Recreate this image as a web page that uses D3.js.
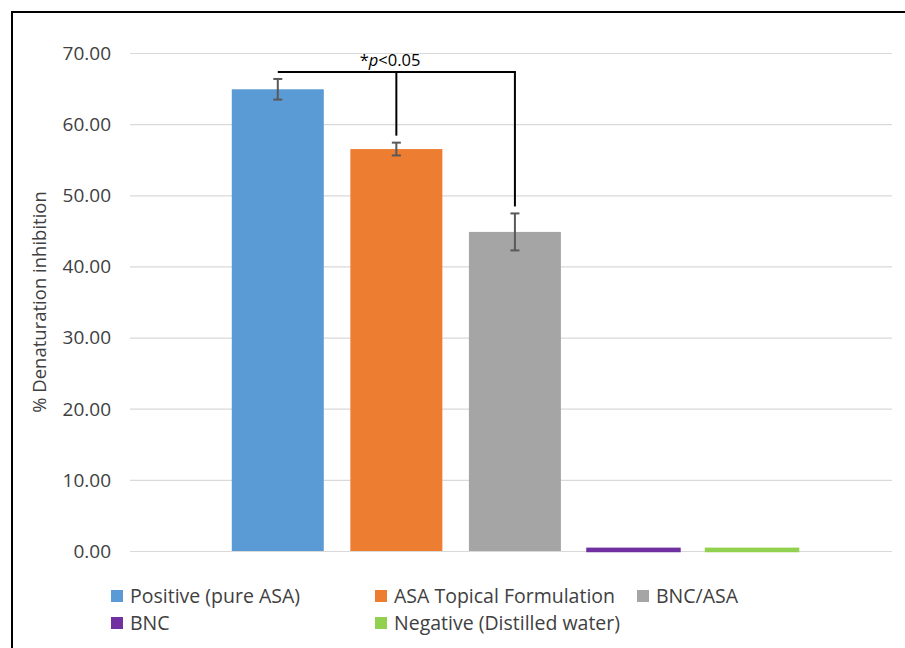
<!DOCTYPE html>
<html>
<head>
<meta charset="utf-8">
<script src="https://cdn.jsdelivr.net/npm/d3@7"></script>
<style>
  body { margin: 0; background: #fff; }
  text { font-family: "Open Sans", sans-serif; fill: #404040; }
</style>
</head>
<body>
<script>
// data
var categories = ["Positive (pure ASA)", "ASA Topical Formulation", "BNC/ASA", "BNC", "Negative (Distilled water)"];
var values = [64.9, 56.5, 44.85, 0.3, 0.3];
var errors = [1.45, 0.9, 2.6, 0, 0];
var colors = ["#5b9bd5", "#ed7d31", "#a5a5a5", "#7030a0", "#92d050"];
var yTicks = [0, 10, 20, 30, 40, 50, 60, 70];
var yTitle = "% Denaturation inhibition";
// significance bracket: compared pair and group label
var sigFrom = "Positive (pure ASA)";
var sigTo = ["ASA Topical Formulation", "BNC/ASA"];

var W = 905, H = 648;
var plot = {left: 130, right: 892, top: 53, bottom: 551};

var svg = d3.select("body").append("svg")
    .attr("width", W)
    .attr("height", H);

// frame (top and left edge of the picture)
svg.append("path")
    .attr("d", "M12,648 L12,12 L905,12")
    .attr("fill", "none")
    .attr("stroke", "#000")
    .attr("stroke-width", 2);

var y = d3.scaleLinear()
    .domain([0, 70])
    .range([plot.bottom, plot.top]);

var x = d3.scaleBand()
    .domain(categories)
    .range([plot.left, plot.right])
    .paddingInner(0.224)
    .paddingOuter(0.8255)
    .align(0.52);

// gridlines
svg.append("g")
  .selectAll("line")
  .data(yTicks)
  .enter().append("line")
    .attr("x1", plot.left)
    .attr("x2", plot.right)
    .attr("y1", function(d) { return y(d) + 0.5; })
    .attr("y2", function(d) { return y(d) + 0.5; })
    .attr("stroke", "#d9d9d9")
    .attr("stroke-width", 1.2);

// y tick labels
svg.append("g")
  .selectAll("text")
  .data(yTicks)
  .enter().append("text")
    .attr("x", 111)
    .attr("y", function(d) { return y(d); })
    .attr("dy", "0.36em")
    .attr("text-anchor", "end")
    .style("font-size", "19px")
    .text(function(d) { return d3.format(".2f")(d); });

// y axis title
svg.append("text")
    .attr("transform", "translate(46," + ((plot.top + plot.bottom) / 2) + ") rotate(-90)")
    .attr("text-anchor", "middle")
    .style("font-size", "18.5px")
    .text(yTitle);

// bars
svg.append("g")
  .selectAll("rect")
  .data(categories)
  .enter().append("rect")
    .attr("x", function(d) { return x(d); })
    .attr("width", x.bandwidth())
    .attr("y", function(d, i) { return y(values[i]); })
    .attr("height", function(d, i) { return y(0) - y(values[i]); })
    .attr("fill", function(d, i) { return colors[i]; })
    .attr("stroke", function(d, i) { return values[i] < 1 ? colors[i] : "none"; })
    .attr("stroke-width", 2.5);

// error bars
var eb = svg.append("g")
    .attr("stroke", "#595959")
    .attr("stroke-width", 2)
  .selectAll("g")
  .data(categories.filter(function(d, i) { return errors[i] > 0; }))
  .enter().append("g");

function cx(d) { return x(d) + x.bandwidth() / 2; }
function val(d) { return values[categories.indexOf(d)]; }
function err(d) { return errors[categories.indexOf(d)]; }

eb.append("line")
    .attr("x1", cx).attr("x2", cx)
    .attr("y1", function(d) { return y(val(d) + err(d)); })
    .attr("y2", function(d) { return y(val(d) - err(d)); });
eb.selectAll(".cap")
  .data(function(d) { return [[d, 1], [d, -1]]; })
  .enter().append("line")
    .attr("x1", function(p) { return cx(p[0]) - 4.5; })
    .attr("x2", function(p) { return cx(p[0]) + 4.5; })
    .attr("y1", function(p) { return y(val(p[0]) + p[1] * err(p[0])); })
    .attr("y2", function(p) { return y(val(p[0]) + p[1] * err(p[0])); });

// significance bracket
var barY = 72;
var sig = svg.append("g")
    .attr("stroke", "#000")
    .attr("stroke-width", 2)
    .attr("fill", "none");
sig.append("line")
    .attr("x1", cx(sigFrom))
    .attr("x2", cx(sigTo[1]) + 1)
    .attr("y1", barY).attr("y2", barY);
sig.selectAll(".drop")
  .data(sigTo)
  .enter().append("line")
    .attr("x1", cx).attr("x2", cx)
    .attr("y1", barY)
    .attr("y2", function(d) { return y(val(d) + err(d)) - 7; });

var sigText = svg.append("text")
    .attr("x", 390)
    .attr("y", 66)
    .attr("text-anchor", "middle")
    .style("font-size", "16.5px")
    .style("fill", "#000");
sigText.append("tspan").text("*");
sigText.append("tspan").style("font-style", "italic").text("p");
sigText.append("tspan").text("<0.05");

// legend
var legendPos = [[111, 596], [375, 596], [637, 596], [111, 623], [375, 623]];
var lg = svg.append("g")
  .selectAll("g")
  .data(categories)
  .enter().append("g")
    .attr("transform", function(d, i) { return "translate(" + legendPos[i][0] + "," + legendPos[i][1] + ")"; });
lg.append("rect")
    .attr("x", 0)
    .attr("y", -6)
    .attr("width", 12)
    .attr("height", 12)
    .attr("fill", function(d, i) { return colors[i]; });
lg.append("text")
    .attr("x", 19)
    .attr("dy", "0.36em")
    .style("font-size", "19.5px")
    .text(function(d) { return d; });
</script>
</body>
</html>
